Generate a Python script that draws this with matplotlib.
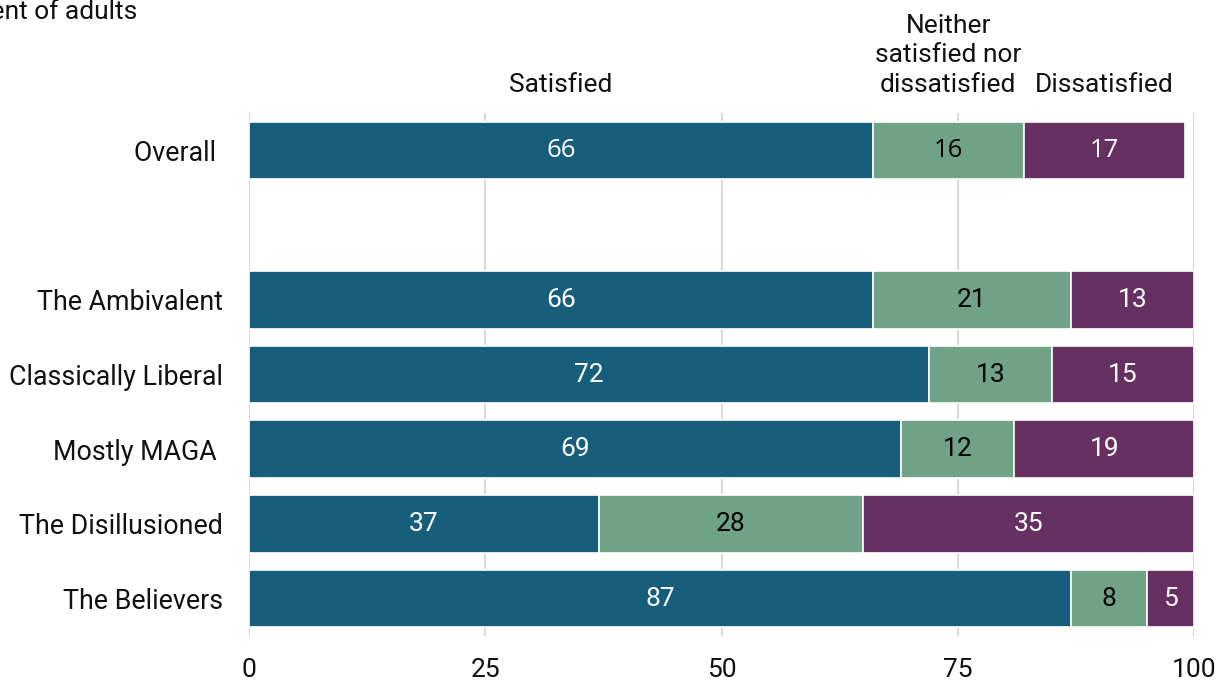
import matplotlib
matplotlib.use("Agg")
import matplotlib.pyplot as plt
import numpy as np

plt.rcParams['font.family'] = ['Roboto', 'DejaVu Sans']

categories = ["Overall ", "", "The Ambivalent", "Classically Liberal", "Mostly MAGA ",
              "The Disillusioned", "The Believers"]
satisfied = [66, None, 66, 72, 69, 37, 87]
neither = [16, None, 21, 13, 12, 28, 8]
dissatisfied = [17, None, 13, 15, 19, 35, 5]
series_names = ["Satisfied", "Neither\nsatisfied nor\ndissatisfied", "Dissatisfied"]
colors = ["#175E7C", "#6FA287", "#663063"]
text_colors = ["white", "black", "white"]
xticks = [0, 25, 50, 75, 100]

fig = plt.figure(figsize=(12.19, 6.81), dpi=100)
ax = fig.add_axes([249/1219, 1-636/681, (1194-249)/1219, (636-113)/681])

y = np.arange(len(categories))
series = [satisfied, neither, dissatisfied]
left = np.zeros(len(categories))
for vals, col, tcol in zip(series, colors, text_colors):
    for i, v in enumerate(vals):
        if v is None:
            continue
        ax.barh(y[i], v, left=left[i], height=0.77, color=col,
                edgecolor="white", linewidth=1.2, zorder=3)
        if i == 0:
            ax.text(left[i] + v/2, y[i], str(v), ha="center", va="center",
                    color=tcol, fontsize=18.5, zorder=4,
                    family=["Open Sans", "DejaVu Sans"])
        else:
            ax.text(left[i] + v/2, y[i], str(v), ha="center", va="center",
                    color=tcol, fontsize=19, zorder=4)
        left[i] += v

# header labels above Overall bar
lo = 0
for vals, name in zip(series, series_names):
    v = vals[0]
    ax.text(lo + v/2, -0.5 - 0.28, name, ha="center", va="baseline",
            fontsize=19, color="#111111", linespacing=1.3)
    lo += v

ax.set_xlim(0, 100)
ax.set_ylim(len(categories) - 0.5, -0.5)
ax.set_yticks(y)
ax.set_yticklabels(categories, fontsize=19.3, color="#111111")
ax.set_xticks(xticks)
ax.set_xticklabels([str(t) for t in xticks], fontsize=19, color="#111111")
ax.tick_params(axis="y", length=0, pad=18.7)
ax.tick_params(axis="x", length=0, pad=15.5)
for s in ax.spines.values():
    s.set_visible(False)
ax.grid(axis="x", color="#d9d9d9", linewidth=1.5, zorder=0)
ax.set_axisbelow(True)

fig.text(137/1219, 1-19/681, "Percent of adults", ha="right", va="baseline",
         fontsize=19, color="#111111")

fig.savefig("out.png", dpi=100)
